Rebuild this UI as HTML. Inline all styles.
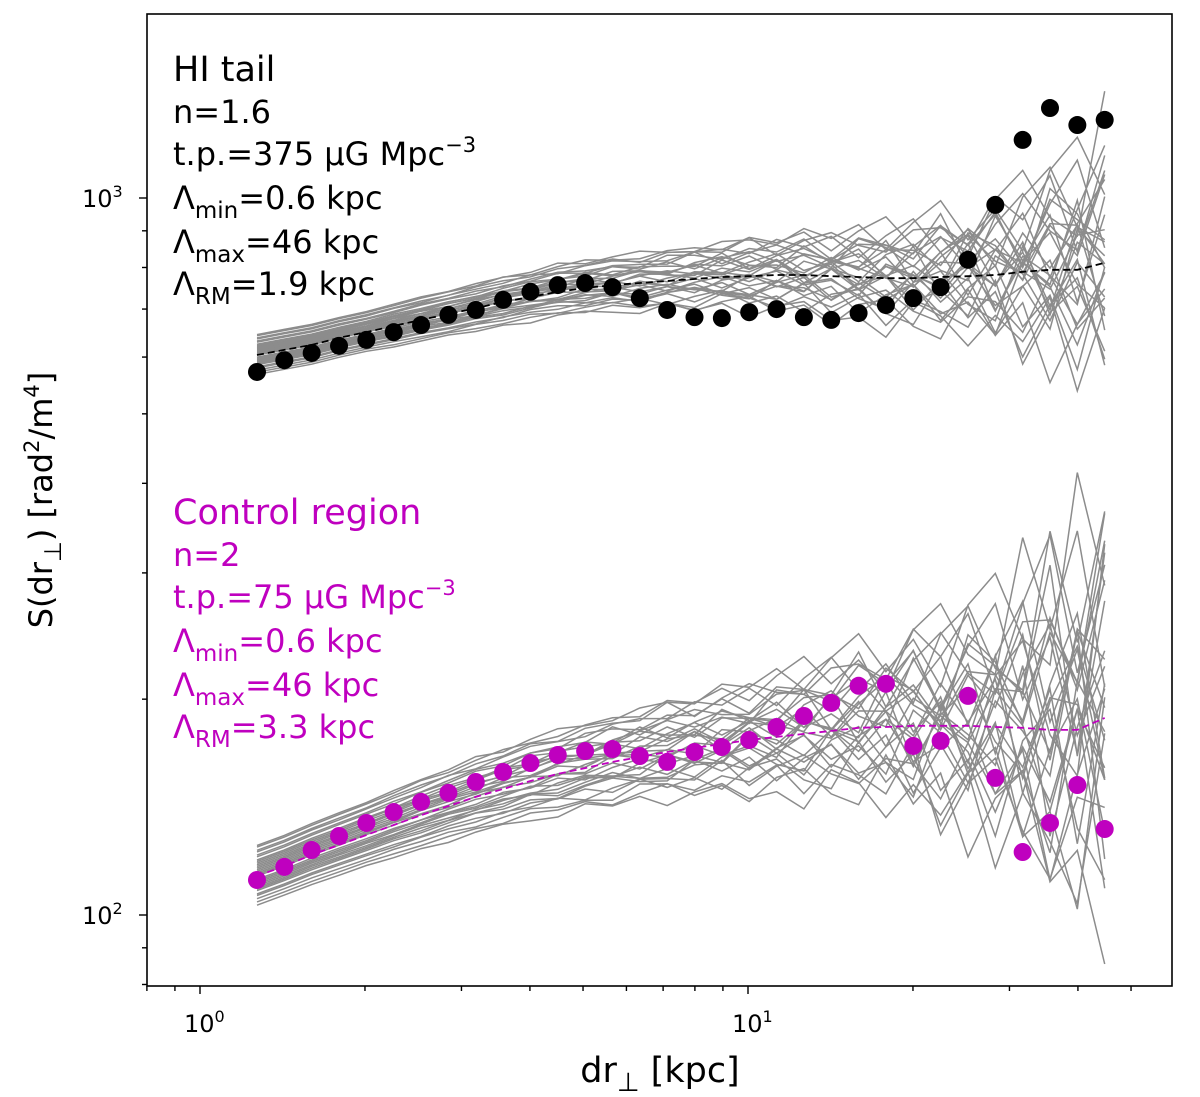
<!DOCTYPE html>
<html><head><meta charset="utf-8"><style>
body{margin:0;background:#fff}
svg text{font-family:"DejaVu Sans","Liberation Sans",sans-serif}
</style></head><body>
<svg id="chart" width="1200" height="1092" viewBox="0 0 1200 1092" xmlns="http://www.w3.org/2000/svg">
<defs><clipPath id="clip"><rect x="147" y="14" width="1025" height="972"/></clipPath></defs>
<g id="grey" clip-path="url(#clip)"></g>
<g id="dash"></g>
<g id="pts"></g>
<rect x="147" y="14" width="1025" height="972" fill="none" stroke="#000" stroke-width="1.6"/>
<g id="ticks"></g>
<g font-size="32" fill="#000">
<text x="173" y="81" font-size="35">HI tail</text>
<text x="173" y="123">n=1.6</text>
<text x="173" y="165">t.p.=375 μG Mpc<tspan dy="-13" font-size="21">−3</tspan></text>
<text x="173" y="209">Λ<tspan dy="9" font-size="23">min</tspan><tspan dy="-9">=0.6 kpc</tspan></text>
<text x="173" y="253">Λ<tspan dy="9" font-size="23">max</tspan><tspan dy="-9">=46 kpc</tspan></text>
<text x="173" y="295">Λ<tspan dy="9" font-size="23">RM</tspan><tspan dy="-9">=1.9 kpc</tspan></text>
</g>
<g font-size="32" fill="#bf00bf">
<text x="173" y="524" font-size="35">Control region</text>
<text x="173" y="566">n=2</text>
<text x="173" y="608">t.p.=75 μG Mpc<tspan dy="-13" font-size="21">−3</tspan></text>
<text x="173" y="652">Λ<tspan dy="9" font-size="23">min</tspan><tspan dy="-9">=0.6 kpc</tspan></text>
<text x="173" y="696">Λ<tspan dy="9" font-size="23">max</tspan><tspan dy="-9">=46 kpc</tspan></text>
<text x="173" y="738">Λ<tspan dy="9" font-size="23">RM</tspan><tspan dy="-9">=3.3 kpc</tspan></text>
</g>
<text x="660" y="1082" font-size="35" text-anchor="middle">dr<tspan dy="9" font-size="26">⊥</tspan><tspan dy="-9"> [kpc]</tspan></text>
<text transform="translate(52,500) rotate(-90)" font-size="32" text-anchor="middle">S(dr<tspan dy="9" font-size="24">⊥</tspan><tspan dy="-9">) [rad</tspan><tspan dy="-13" font-size="21">2</tspan><tspan dy="13">/m</tspan><tspan dy="-13" font-size="21">4</tspan><tspan dy="13">]</tspan></text>
</svg>
<script>
const xs = Array.from({length:32},(_,i)=>Math.pow(10,0.104+i*0.0499));
const hiPoints = [572,594,608,622,634,650,665,687,698,721,740,756,761,751,725,698,682,680,693,700,682,676,691,709,725,751,820,978,1205,1335,1264,1285];
const ctrlPoints = [111.9,116.7,123.2,128.9,134.4,139.2,143.8,148,153.3,158.3,162.9,167.2,169.3,170.4,166.6,163.5,168.8,171.5,175.4,182.9,189.5,197.6,208.8,210.1,172.1,174.9,202.1,155.3,122.4,134.4,151.8,131.8];
const hiMean = [604,614,624,638,650,663,676,689,702,716,728,740,749,756,761,766,771,776,778,781,781,778,776,773,773,776,778,781,789,794,794,812];
const ctrlMean = [113.3,117,121.3,125.2,129.3,133.5,137.8,141.9,146.1,149.9,153.8,157.3,160.3,163.5,166.1,168.8,171,173.2,175.4,177.2,178.9,180.6,182.4,182.9,183.6,183.6,183.6,182.9,182.4,181.2,181.2,188.3];
const hiSpread = [0.03,0.03,0.03,0.03,0.03,0.032,0.033,0.034,0.035,0.036,0.037,0.038,0.04,0.04,0.042,0.044,0.046,0.048,0.05,0.052,0.055,0.058,0.062,0.066,0.07,0.075,0.08,0.09,0.1,0.11,0.12,0.14];
const ctrlSpread = [0.045,0.045,0.046,0.047,0.048,0.05,0.052,0.054,0.056,0.058,0.06,0.062,0.064,0.066,0.068,0.07,0.072,0.075,0.08,0.085,0.09,0.095,0.1,0.11,0.12,0.13,0.14,0.15,0.17,0.19,0.21,0.24];
const curveOffsets = [-0.9,-0.7,-0.55,-0.4,-0.3,-0.2,-0.1,0,0.1,0.2,0.3,0.4,0.5,0.65,0.8,0.95,-0.8,-0.45,-0.15,0.15,0.45,0.75,-0.6,-0.25,0.05,0.35,0.6,0.9,-0.35,0.25];
const wiggle = [0.2,-0.4,0.6,-0.1,0.5,-0.7,0.3,0.8,-0.5,0.1,-0.9,0.4,0.7,-0.3,-0.6,0.9,-0.2,0.5,-0.8,0.2,0.6,-0.4,0.0,-0.7,0.8,0.3,-0.5,0.4,-0.1,0.7,-0.6,0.5,0.1,-0.3,0.9,-0.8,0.2,0.6,-0.2,-0.5,0.3];
const yTickVals=[100,1000], yTickLabels=["2","3"];
const xTickVals=[1,10], xTickLabels=["0","1"];

const X=v=>200+548*Math.log10(v);
const Y=v=>198-717*(Math.log10(v)-3);
const NS="http://www.w3.org/2000/svg";
function mk(t,a,p){const e=document.createElementNS(NS,t);for(const k in a)e.setAttribute(k,a[k]);p.appendChild(e);return e;}
const grey=document.getElementById('grey');
[[hiMean,hiSpread],[ctrlMean,ctrlSpread]].forEach(([m,s],g)=>{
 curveOffsets.forEach((o,c)=>{
  const d=m.map((v,i)=>{const w=wiggle[(i+c*7+g*3)%wiggle.length]*Math.pow(i/31,2)*0.9;
   const lv=Math.log10(v)+s[i]*(o+w);return (i?'L':'M')+X(xs[i]).toFixed(1)+','+Y(Math.pow(10,lv)).toFixed(1);}).join('');
  const p=mk('path',{d,fill:'none',stroke:'#8c8c8c','stroke-width':1.5},grey);
  
  
 });
});
const dash=document.getElementById('dash');
[[hiMean,'#000'],[ctrlMean,'#bf00bf']].forEach(([m,col])=>{
 const d=m.map((v,i)=>(i?'L':'M')+X(xs[i]).toFixed(1)+','+Y(v).toFixed(1)).join('');
 const p=mk('path',{d,fill:'none',stroke:col,'stroke-width':1.8,'stroke-dasharray':'7,4'},dash);
 
 
});
const pts=document.getElementById('pts');
[[hiPoints,'#000'],[ctrlPoints,'#bf00bf']].forEach(([arr,col])=>{
 arr.forEach((v,i)=>{const c=mk('circle',{cx:X(xs[i]),cy:Y(v),r:9,fill:col},pts);
  
  });
});
const tk=document.getElementById('ticks');
function line(x1,y1,x2,y2){const l=mk('line',{x1,y1,x2,y2,stroke:'#000','stroke-width':1.4},tk);}
[0.8,0.9,2,3,4,5,6,7,8,9,20,30,40,50].forEach(v=>line(X(v),986,X(v),991));
[80,90,200,300,400,500,600,700,800,900].forEach(v=>line(147,Y(v),142,Y(v)));
xTickVals.forEach((v,i)=>{line(X(v),986,X(v),994);
 const t=mk('text',{x:X(v)-16,y:1032,'font-size':24},tk);t.textContent='10';
 const s=mk('tspan',{dy:-10,'font-size':16},t);s.textContent=xTickLabels[i];
 });
yTickVals.forEach((v,i)=>{line(147,Y(v),139,Y(v));
 const t=mk('text',{x:82,y:Y(v)+9,'font-size':24},tk);t.textContent='10';
 const s=mk('tspan',{dy:-10,'font-size':16},t);s.textContent=yTickLabels[i];
 });
</script>
</body></html>
